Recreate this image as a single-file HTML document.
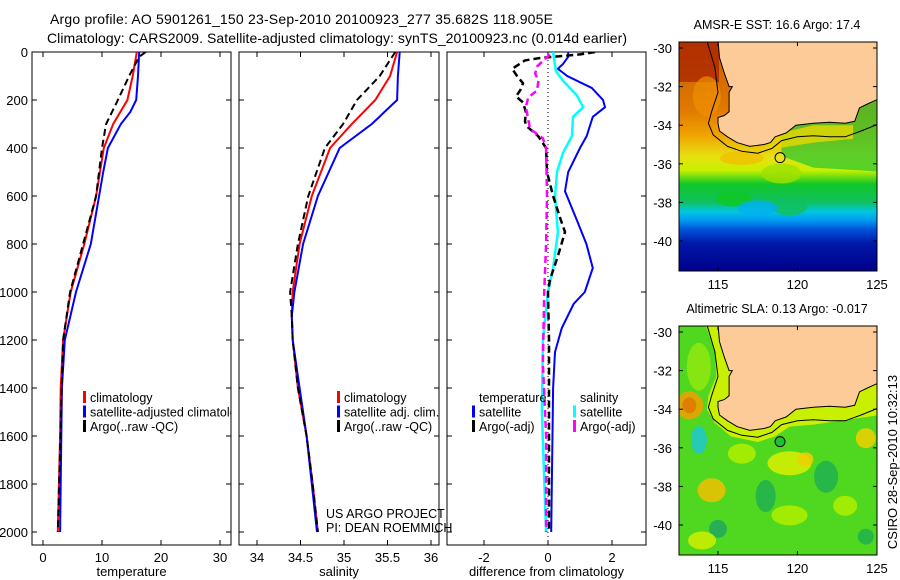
<!DOCTYPE html>
<html><head><meta charset="utf-8"><style>
body{margin:0;background:#fff;}
svg{display:block;font-family:"Liberation Sans",Arial,sans-serif;}
</style></head><body>
<svg id="fig" width="900" height="580" viewBox="0 0 900 580" xmlns="http://www.w3.org/2000/svg">
<defs>
<linearGradient id="sstGrad" x1="0" y1="0" x2="0" y2="1">
<stop offset="0" stop-color="#c85a00"/><stop offset="0.3" stop-color="#e07a00"/>
<stop offset="0.4" stop-color="#f0a000"/><stop offset="0.5" stop-color="#e8e010"/>
<stop offset="0.56" stop-color="#c8f000"/><stop offset="0.62" stop-color="#10c828"/>
<stop offset="0.7" stop-color="#10c060"/><stop offset="0.74" stop-color="#00c8e0"/>
<stop offset="0.78" stop-color="#0098f0"/><stop offset="0.82" stop-color="#0050d8"/>
<stop offset="0.88" stop-color="#0018a8"/><stop offset="1" stop-color="#00008a"/>
</linearGradient>
<clipPath id="cp1"><rect x="32" y="52" width="199" height="493"/></clipPath>
<clipPath id="cp2"><rect x="239" y="52" width="200" height="493"/></clipPath>
<clipPath id="cp3"><rect x="447" y="52" width="199" height="493"/></clipPath>
<clipPath id="cm1"><rect x="679" y="42" width="198" height="229"/></clipPath>
<clipPath id="cm2"><rect x="679" y="326" width="198" height="229"/></clipPath>
</defs>
<text x="50" y="24" font-size="14" textLength="503">Argo profile: AO 5901261_150 23-Sep-2010 20100923_277 35.682S 118.905E</text>
<text x="47" y="43" font-size="14" textLength="580">Climatology: CARS2009. Satellite-adjusted climatology: synTS_20100923.nc (0.014d earlier)</text>
<g id="plots"></g>
<g id="maps"></g>
<text transform="translate(897,462) rotate(-90)" text-anchor="middle" font-size="13">CSIRO 28-Sep-2010 10:32:13</text>
</svg>
<script>
// ---- data ----
const tDepth = [0,100,200,300,400,600,800,1000,1200,1400,1600,2000];
const tClim  = [15.9,15.2,14.3,11.9,10.3,9.0,7.0,4.7,3.4,3.0,2.9,2.5];
const tSatDepth = [0,100,200,250,300,400,500,600,800,1000,1200,1400,2000];
const tSat   = [16.3,16.1,15.8,14.8,13.2,11.0,10.2,9.5,8.1,5.6,3.7,3.2,2.9];
const tArgoDepth = [0,20,100,200,300,400,600,800,1000,1200,2000];
const tArgo  = [17.4,16.3,14.6,12.7,10.7,10.0,9.0,6.8,4.6,3.4,2.5];
const sDepth = [0,100,200,300,400,600,800,1000,1100,1200,1400,1600,1800,2000];
const sClim  = [35.61,35.53,35.36,35.09,34.84,34.63,34.49,34.41,34.40,34.41,34.47,34.57,34.64,34.70];
const sSat   = [35.64,35.62,35.61,35.32,34.95,34.70,34.53,34.43,34.40,34.41,34.49,34.57,34.63,34.69];
const sArgo  = [35.59,35.41,35.15,34.99,34.78,34.59,34.47,34.38,34.40,34.41,34.47,34.57,34.64,34.70];
const dTSatDepth = [0,20,50,70,100,150,200,230,270,350,400,500,580,700,800,900,1000,1050,1150,1250,1400,2000];
const dTSat  = [0.63,0.63,0.47,0.31,0.6,1.37,1.72,1.78,1.4,1.21,1.0,0.63,0.53,0.9,1.2,1.4,1.15,0.8,0.43,0.22,0.16,0.1];
const dSSatDepth = [0,30,80,120,180,230,270,350,420,500,600,750,900,1000,1200,1500,2000];
const dSSat  = [0.16,0.19,0.25,0.47,0.9,1.1,0.78,0.75,0.47,0.28,0.22,0.31,0.16,0,-0.16,-0.19,-0.06];
const dTArgoDepth = [0,10,25,35,70,100,130,160,185,210,250,290,310,350,400,500,600,700,750,850,950,1000,1200,2000];
const dTArgo = [1.47,1.0,-0.25,-0.72,-1.12,-0.97,-0.78,-0.87,-1.0,-0.78,-0.69,-0.72,-0.66,-0.31,-0.06,-0.03,0.16,0.4,0.53,0.31,0.06,0,0.03,0.03];
const dSArgoDepth = [10,30,60,90,120,160,190,230,280,320,360,400,600,800,1000,1300,1600,2000];
const dSArgo = [0.06,-0.1,-0.34,-0.4,-0.3,-0.34,-0.62,-0.69,-0.62,-0.56,-0.16,-0.06,-0.03,-0.06,-0.12,-0.16,-0.06,-0.06];
const depthTicks = [0,200,400,600,800,1000,1200,1400,1600,1800,2000];
const tTicks = [0,10,20,30];
const sTicks = [34,34.5,35,35.5,36];
const dTicks = [-2,0,2];
const lonTicks = [115,120,125];
const latTicks = [-30,-32,-34,-36,-38,-40];

const NS="http://www.w3.org/2000/svg";
function mk(tag,attrs,parent){const e=document.createElementNS(NS,tag);for(const k in attrs)e.setAttribute(k,attrs[k]);parent.appendChild(e);return e;}
const plots=document.getElementById('plots');
const dY = d => 52 + d*0.24;
const panels=[
 {x0:32,x1:231,clip:'cp1',fx:v=>43+v*5.9,ticks:tTicks,lab:'temperature',fmt:v=>String(v)},
 {x0:239,x1:439,clip:'cp2',fx:v=>257+(v-34)*87,ticks:sTicks,lab:'salinity',fmt:v=>String(v)},
 {x0:447,x1:646,clip:'cp3',fx:v=>548+v*32,ticks:dTicks,lab:'difference from climatology',fmt:v=>String(v)}
];
panels.forEach((p,i)=>{
 const g=mk('g',{},plots);
 
 
 const r=mk('rect',{x:p.x0,y:52,width:p.x1-p.x0,height:493,fill:'none',stroke:'#000','stroke-width':1},g);
 
 
 depthTicks.forEach(d=>{
  mk('line',{x1:p.x0,x2:p.x0+5,y1:dY(d),y2:dY(d),stroke:'#000'},g);
  mk('line',{x1:p.x1,x2:p.x1-5,y1:dY(d),y2:dY(d),stroke:'#000'},g);
  if(i===0){const t=mk('text',{x:28,y:dY(d)+5,'text-anchor':'end','font-size':13},g);t.textContent=d;
   
   }
 });
 p.ticks.forEach(v=>{const x=p.fx(v);
  mk('line',{x1:x,x2:x,y1:52,y2:57,stroke:'#000'},g);
  mk('line',{x1:x,x2:x,y1:545,y2:540,stroke:'#000'},g);
  const t=mk('text',{x:x,y:562,'text-anchor':'middle','font-size':13},g);t.textContent=p.fmt(v);
  
  
 });
 const xl=mk('text',{x:(p.x0+p.x1)/2,y:576,'text-anchor':'middle','font-size':13},g);xl.textContent=p.lab;
 
 
 p.g=mk('g',{'clip-path':'url(#'+p.clip+')'},g);
});
function line(p,depths,vals,color,dash,name,w){
 const pts=depths.map((d,k)=>p.fx(vals[k]).toFixed(1)+','+dY(d).toFixed(1)).join(' ');
 const e=mk('polyline',{points:pts,fill:'none',stroke:color,'stroke-width':w||2},p.g);
 if(dash)e.setAttribute('stroke-dasharray',dash);
 
 
}
const z=mk('line',{x1:548,x2:548,y1:52,y2:545,stroke:'#000','stroke-dasharray':'1,3'},panels[2].g);


line(panels[0],tDepth,tClim,'#f00',null,'temp-climatology-line');
line(panels[0],tSatDepth,tSat,'#00f',null,'temp-satellite-line');
line(panels[0],tArgoDepth,tArgo,'#000','7,4','temp-argo-line');
line(panels[1],sDepth,sClim,'#f00',null,'sal-climatology-line');
line(panels[1],sDepth,sSat,'#00f',null,'sal-satellite-line');
line(panels[1],sDepth,sArgo,'#000','7,4','sal-argo-line');
line(panels[2],dTSatDepth,dTSat,'#00f',null,'diff-temp-satellite-line');
line(panels[2],dSSatDepth,dSSat,'#0ff',null,'diff-sal-satellite-line',2.5);
line(panels[2],dTArgoDepth,dTArgo,'#000','7,4','diff-temp-argo-line',2.5);
line(panels[2],dSArgoDepth,dSArgo,'#f0f','7,4','diff-sal-argo-line',2.5);

function legend(x,y,items,clip){
 const g=mk('g',clip?{'clip-path':'url(#'+clip+')'}:{},plots);
 
 
 items.forEach((it,k)=>{
  const yy=y+k*14.5;
  if(it[1]){const b=mk('rect',{x:x,y:yy-11,width:3,height:12,fill:it[1]},g);
   
   }
  const t=mk('text',{x:x+7,y:yy,'font-size':12.5},g);t.textContent=it[0];
  
  
 });
}
legend(83,402,[['climatology','#f00'],['satellite-adjusted climatology','#00f'],['Argo(..raw -QC)','#000']],'cp1');
legend(337,402,[['climatology','#f00'],['satellite adj. clim.','#00f'],['Argo(..raw -QC)','#000']]);
legend(472,402,[['temperature',null],['satellite','#00f'],['Argo(-adj)','#000']]);
legend(573,402,[['salinity',null],['satellite','#0ff'],['Argo(-adj)','#f0f']]);
[['US ARGO PROJECT',518],['PI: DEAN ROEMMICH',532]].forEach(a=>{
 const t=mk('text',{x:326,y:a[1],'font-size':12.5},plots);t.textContent=a[0];
 
 
});

// ---- maps ----
const landLon=[115.0,115.1,115.4,115.7,115.9,115.7,115.7,115.4,115.0,115.0,115.1,115.6,116.2,117.0,117.9,118.3,118.6,119.3,119.9,121.0,122.0,123.0,123.6,123.9,124.4,125.2,125.2];
const landLat=[-29.6,-30.5,-31.3,-32.0,-32.0,-32.3,-33.3,-33.5,-33.6,-33.9,-34.3,-34.6,-34.9,-35.1,-35.0,-34.9,-34.6,-34.4,-34.0,-33.9,-33.85,-33.9,-33.8,-33.1,-32.9,-32.6,-29.6];
const isoLon=[114.3,114.8,115.0,114.6,114.4,114.7,115.6,116.5,117.5,118.4,119.0,120.0,121.0,122.0,123.0,124.0,125.2];
const isoLat=[-29.6,-31.0,-32.3,-33.3,-33.9,-34.5,-35.1,-35.35,-35.45,-35.2,-34.8,-34.6,-34.55,-34.6,-34.6,-34.3,-33.9];
const argoLon=118.905, argoLat=-35.682;
const maps=document.getElementById('maps');
const lonX=l=>679+(l-112.55)*15.9;
function drawMap(top,clip,title,kind,dotColor){
 const latY=l=>top+6+(-30-l)*19.3;
 const P=a=>a.map(p=>lonX(p[0])+','+latY(p[1])).join(' ');
 const g=mk('g',{},maps);
 
 
 const c=mk('g',{'clip-path':'url(#'+clip+')'},g);
 if(kind==='sst'){
  mk('rect',{x:679,y:top,width:198,height:229,fill:'url(#sstGrad)'},c);
  mk('rect',{x:679,y:top,width:40,height:40,fill:'#a82000',opacity:0.7},c);
  mk('ellipse',{cx:lonX(114.3),cy:latY(-32.5),rx:14,ry:20,fill:'#f09000',opacity:0.7},c);
  mk('polygon',{points:P([[119,-34.2],[121,-33.7],[125.2,-32.5],[125.2,-36.4],[121,-36.2],[119,-35.6]]),fill:'#30c830',opacity:0.75},c);
  mk('polygon',{points:P([[118,-34.6],[121,-34.0],[123.5,-34.0],[123.5,-34.7],[121,-34.9],[118,-35.3]]),fill:'#e8d800',opacity:0.8},c);
  mk('ellipse',{cx:lonX(119),cy:latY(-36.5),rx:20,ry:10,fill:'#a0e000',opacity:0.8},c);
  mk('ellipse',{cx:lonX(116.5),cy:latY(-35.7),rx:22,ry:7,fill:'#f0c000',opacity:0.8},c);
  mk('ellipse',{cx:lonX(116),cy:latY(-37.8),rx:18,ry:8,fill:'#10c828',opacity:0.9},c);
  mk('ellipse',{cx:lonX(119.5),cy:latY(-38.2),rx:18,ry:9,fill:'#10c060',opacity:0.9},c);
  mk('ellipse',{cx:lonX(117.5),cy:latY(-38.3),rx:20,ry:8,fill:'#00b0f0',opacity:0.8},c);
 } else {
  mk('rect',{x:679,y:top,width:198,height:229,fill:'#50d820'},c);
  [[113.2,-33.8,14,14,'#f0a000'],[113.2,-33.8,7,8,'#e07800'],[113.8,-35.6,8,14,'#20c8d0'],[114.6,-38.2,14,12,'#f0c000'],
   [119.5,-36.8,22,12,'#d8f000'],[120.5,-36.6,8,7,'#f0d000'],[124.3,-35.5,10,10,'#f0d000'],[113.8,-31.8,12,24,'#90e810'],
   [121.8,-37.5,12,16,'#20b050'],[118,-38.5,10,16,'#20b050'],[115,-40.2,9,9,'#20a860'],[119.5,-39.5,18,10,'#b0f000'],
   [114,-40.8,14,9,'#d0f000'],[124.3,-40.6,8,8,'#20b050'],[116.5,-36.3,14,10,'#b0f000'],[123,-39,12,10,'#b0f000']
  ].forEach(b=>mk('ellipse',{cx:lonX(b[0]),cy:latY(b[1]),rx:b[2],ry:b[3],fill:b[4],opacity:0.85},c));
  mk('polygon',{points:P([[114.2,-29.6],[114.8,-31],[114.9,-32.3],[114.4,-33.3],[114.3,-34],[114.8,-34.7],[115.8,-35.4],[117.5,-35.7],[118.6,-35.4],[119.5,-34.9],[121,-34.8],[125.2,-34.3],[125.2,-29.6]]),fill:'#c8f000'},c);
 }
 const land=mk('polygon',{points:landLon.map((l,k)=>lonX(l).toFixed(1)+','+latY(landLat[k]).toFixed(1)).join(' '),fill:'#fdcb98',stroke:'#000','stroke-width':1},c);
 
 
 const iso=mk('polyline',{points:isoLon.map((l,k)=>lonX(l).toFixed(1)+','+latY(isoLat[k]).toFixed(1)).join(' '),fill:'none',stroke:'#000','stroke-width':1},c);
 
 
 const dot=mk('circle',{cx:lonX(argoLon),cy:latY(argoLat),r:5,fill:dotColor,stroke:'#000'},c);
 
 
 mk('rect',{x:679,y:top,width:198,height:229,fill:'none',stroke:'#000'},g);
 lonTicks.forEach(l=>{const x=lonX(l);
  mk('line',{x1:x,x2:x,y1:top,y2:top+4,stroke:'#000'},g);
  mk('line',{x1:x,x2:x,y1:top+229,y2:top+225,stroke:'#000'},g);
  const t=mk('text',{x:x,y:top+247,'text-anchor':'middle','font-size':13},g);t.textContent=l;
  
  
 });
 latTicks.forEach(l=>{const y=latY(l);
  mk('line',{x1:679,x2:683,y1:y,y2:y,stroke:'#000'},g);
  mk('line',{x1:877,x2:873,y1:y,y2:y,stroke:'#000'},g);
  const t=mk('text',{x:672,y:y+5,'text-anchor':'end','font-size':13},g);t.textContent=l;
  
  
 });
 const tt=mk('text',{x:777,y:top-13,'text-anchor':'middle','font-size':12.5},g);tt.textContent=title;
 
 
}
drawMap(42,'cm1','AMSR-E SST: 16.6 Argo: 17.4','sst','#e8e020');
drawMap(326,'cm2','Altimetric SLA: 0.13 Argo: -0.017','sla','#20c030');
</script>
</body></html>
